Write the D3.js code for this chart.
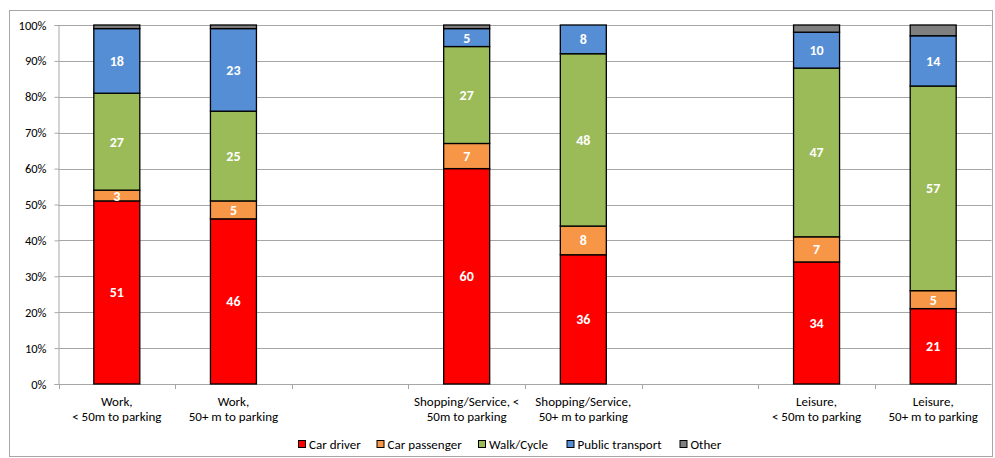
<!DOCTYPE html>
<html><head><meta charset="utf-8">
<script src="https://cdn.jsdelivr.net/npm/d3@7"></script>
<style>body{margin:0;background:#fff;} text{font-family:Carlito,"Liberation Sans",Arial,sans-serif;}</style>
</head><body>
<svg id="c" width="995" height="458"></svg>
<script>
const categories = [
  ["Work,", "< 50m to parking"],
  ["Work,", "50+ m to parking"],
  null,
  ["Shopping/Service, <", "50m to parking"],
  ["Shopping/Service,", "50+ m to parking"],
  null,
  ["Leisure,", "< 50m to parking"],
  ["Leisure,", "50+ m to parking"]
];
const seriesNames = ["Car driver", "Car passenger", "Walk/Cycle", "Public transport", "Other"];
const carDriver     = [51, 46, null, 60, 36, null, 34, 21];
const carPassenger  = [3, 5, null, 7, 8, null, 7, 5];
const walkCycle     = [27, 25, null, 27, 48, null, 47, 57];
const publicTransport = [18, 23, null, 5, 8, null, 10, 14];
const other         = [1, 1, null, 1, 0, null, 2, 3];
const colors = ["#ff0000", "#f79646", "#9bbb59", "#558ed5", "#7f7f7f"];
const yTicks = [0,10,20,30,40,50,60,70,80,90,100];

const FS = 13;
const svg = d3.select("#c");
svg.append("rect").attr("x",9.5).attr("y",10.5).attr("width",983).attr("height",446)
  .attr("fill","none").attr("stroke","#a6a6a6").attr("stroke-width",1);

const L = 58.5, R = 991.5, T = 25, B = 384;
const x = d3.scaleBand().domain(d3.range(categories.length)).range([L, R]).paddingInner(0).paddingOuter(0);
const y = d3.scaleLinear().domain([0,100]).range([B, T]);

// gridlines
svg.append("g").selectAll("line").data(yTicks.filter(d=>d>0)).join("line")
  .attr("x1",L).attr("x2",R).attr("y1",d=>Math.round(y(d))+0.5).attr("y2",d=>Math.round(y(d))+0.5)
  .attr("stroke","#a6a6a6").attr("stroke-width",1);

// y axis
const yAxis = svg.append("g").attr("transform",`translate(${L},0)`)
  .call(d3.axisLeft(y).tickValues(yTicks).tickFormat(d=>d+"%").tickSize(4).tickPadding(8));
yAxis.select(".domain").attr("stroke","#a6a6a6");
yAxis.selectAll(".tick line").attr("stroke","#a6a6a6");
yAxis.selectAll("text").attr("font-size",12.5).attr("fill","#000")
  .attr("font-family",'Carlito,"Liberation Sans",Arial,sans-serif');

// x axis
const xAxisG = svg.append("g").attr("transform",`translate(0,${B})`);
xAxisG.append("line").attr("x1",L).attr("x2",R).attr("y1",0.5).attr("y2",0.5).attr("stroke","#a6a6a6");
const bounds = d3.range(categories.length+1).map(i => L + i*x.bandwidth());
xAxisG.selectAll("line.t").data(bounds).join("line").attr("class","t")
  .attr("x1",d=>Math.round(d)+0.5).attr("x2",d=>Math.round(d)+0.5).attr("y1",0).attr("y2",5).attr("stroke","#a6a6a6");

// stacked data
const rows = categories.map((c,i)=>({i, v:[carDriver[i],carPassenger[i],walkCycle[i],publicTransport[i],other[i]]}));
const stackData = rows.filter(r=>r.v[0]!==null);
const barW = 46;
stackData.forEach(r=>{
  let acc = 0;
  r.v.forEach((val,k)=>{
    const y0 = acc, y1 = acc+val; acc = y1;
    if (val <= 0) return;
    const cx = x(r.i) + x.bandwidth()/2;
    svg.append("rect").attr("x",cx-barW/2).attr("y",y(y1)).attr("width",barW).attr("height",y(y0)-y(y1))
      .attr("fill",colors[k]).attr("stroke","#000").attr("stroke-width",1.3);
    if (k < 4) {
      svg.append("text").attr("x",cx).attr("y",(y(y0)+y(y1))/2).attr("dy","0.36em")
        .attr("text-anchor","middle").attr("fill","#fff").attr("font-weight","bold").attr("font-size",14)
        .text(val);
    }
  });
});

// category labels
categories.forEach((c,i)=>{
  if(!c) return;
  const cx = x(i)+x.bandwidth()/2;
  const t = svg.append("text").attr("text-anchor","middle").attr("font-size",FS).attr("fill","#000");
  t.append("tspan").attr("x",cx).attr("y",406).text(c[0]);
  t.append("tspan").attr("x",cx).attr("y",421).text(c[1]);
});

// legend
const leg = svg.append("g");
const lx = [298, 376.5, 478, 566.5, 679.5];
seriesNames.forEach((n,k)=>{
  const g = leg.append("g").attr("transform",`translate(${lx[k]},444)`);
  g.append("rect").attr("x",0.5).attr("y",-3.5).attr("width",7).attr("height",7)
    .attr("fill",colors[k]).attr("stroke","#000").attr("stroke-width",1);
  g.append("text").attr("x",11).attr("y",0).attr("dy","0.36em").attr("font-size",FS).attr("fill","#000").text(n);
});
</script>
</body></html>
